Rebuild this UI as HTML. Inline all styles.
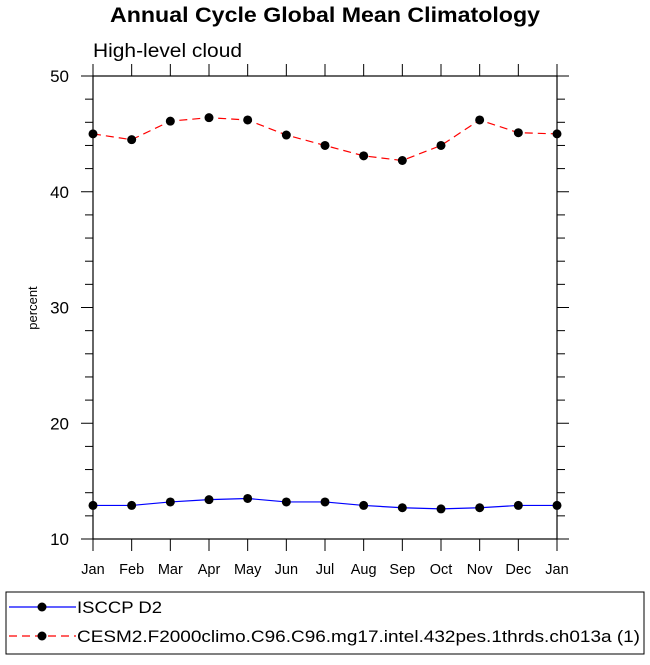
<!DOCTYPE html>
<html><head><meta charset="utf-8"><style>
body{margin:0;background:#fff;font-family:"Liberation Sans",sans-serif}
</style></head><body>
<svg id="c" width="650" height="660" xmlns="http://www.w3.org/2000/svg" font-family="Liberation Sans, sans-serif">
<text x="325" y="22" text-anchor="middle" font-size="21" font-weight="bold" textLength="430" lengthAdjust="spacingAndGlyphs">Annual Cycle Global Mean Climatology</text>
<text x="93" y="57" font-size="19" textLength="149" lengthAdjust="spacingAndGlyphs">High-level cloud</text>
<text transform="translate(37,308) rotate(-90)" text-anchor="middle" font-size="13">percent</text>
<g id="axes"></g>
<g id="series"></g>
<rect x="6" y="592" width="638" height="62" fill="none" stroke="#000" stroke-width="1"/>
<g>
<line x1="9" y1="607" x2="76" y2="607" stroke="#00f" stroke-width="1.2"/>
<circle cx="42" cy="607" r="4.5" fill="#000"/>
<text x="77" y="613" font-size="17" textLength="85" lengthAdjust="spacingAndGlyphs">ISCCP D2</text></g>
<g>
<line x1="9" y1="636" x2="76" y2="636" stroke="#f00" stroke-width="1.2" stroke-dasharray="8,5"/>
<circle cx="42" cy="636" r="4.5" fill="#000"/>
<text x="77" y="642" font-size="17" textLength="563" lengthAdjust="spacingAndGlyphs">CESM2.F2000climo.C96.C96.mg17.intel.432pes.1thrds.ch013a (1)</text></g>
</svg>
<script>
const months=["Jan","Feb","Mar","Apr","May","Jun","Jul","Aug","Sep","Oct","Nov","Dec","Jan"];
const isccp=[12.9,12.9,13.2,13.4,13.5,13.2,13.2,12.9,12.7,12.6,12.7,12.9,12.9];
const cesm=[45.0,44.5,46.1,46.4,46.2,44.9,44.0,43.1,42.7,44.0,46.2,45.1,45.0];
const yTicks=[10,20,30,40,50];
const NS="http://www.w3.org/2000/svg";
const X0=93,X1=557,Y0=539,Y1=76;
const xs=i=>X0+(X1-X0)*i/(months.length-1);
const ys=v=>Y0-(v-10)/40*(Y0-Y1);
function el(t,a,p){const e=document.createElementNS(NS,t);for(const k in a)e.setAttribute(k,a[k]);p.appendChild(e);return e;}
const ax=document.getElementById('axes');
const fr=el('rect',{x:X0,y:Y1,width:X1-X0,height:Y0-Y1,fill:'none',stroke:'#000','stroke-width':1.2},ax);


months.forEach((m,i)=>{
 const x=xs(i);
 el('line',{x1:x,y1:Y0,x2:x,y2:Y0+12,stroke:'#000'},ax);
 el('line',{x1:x,y1:Y1,x2:x,y2:Y1-12,stroke:'#000'},ax);
 const t=el('text',{x:x,y:574,'text-anchor':'middle','font-size':14.5},ax);
 t.textContent=m;
 
 
});
for(let v=10;v<=50;v+=2){
 const y=ys(v),major=v%10===0,L=major?12:8;
 el('line',{x1:X0-L,y1:y,x2:X0,y2:y,stroke:'#000'},ax);
 el('line',{x1:X1,y1:y,x2:X1+L,y2:y,stroke:'#000'},ax);
}
yTicks.forEach(v=>{
 const t=el('text',{x:69,y:ys(v)+6,'text-anchor':'end','font-size':17},ax);
 t.textContent=v;
 
 
});
const sg=document.getElementById('series');
function draw(vals,color,dash,name){
 const p=el('polyline',{points:vals.map((v,i)=>xs(i)+','+ys(v)).join(' '),fill:'none',stroke:color,'stroke-width':1.2,'stroke-dasharray':dash},sg);
 
 
 vals.forEach((v,i)=>{
  const c=el('circle',{cx:xs(i),cy:ys(v),r:4.5,fill:'#000'},sg);
  
  
 });
}
draw(isccp,'#00f','none','isccp');
draw(cesm,'#f00','8,5','cesm2');
</script>
</body></html>
